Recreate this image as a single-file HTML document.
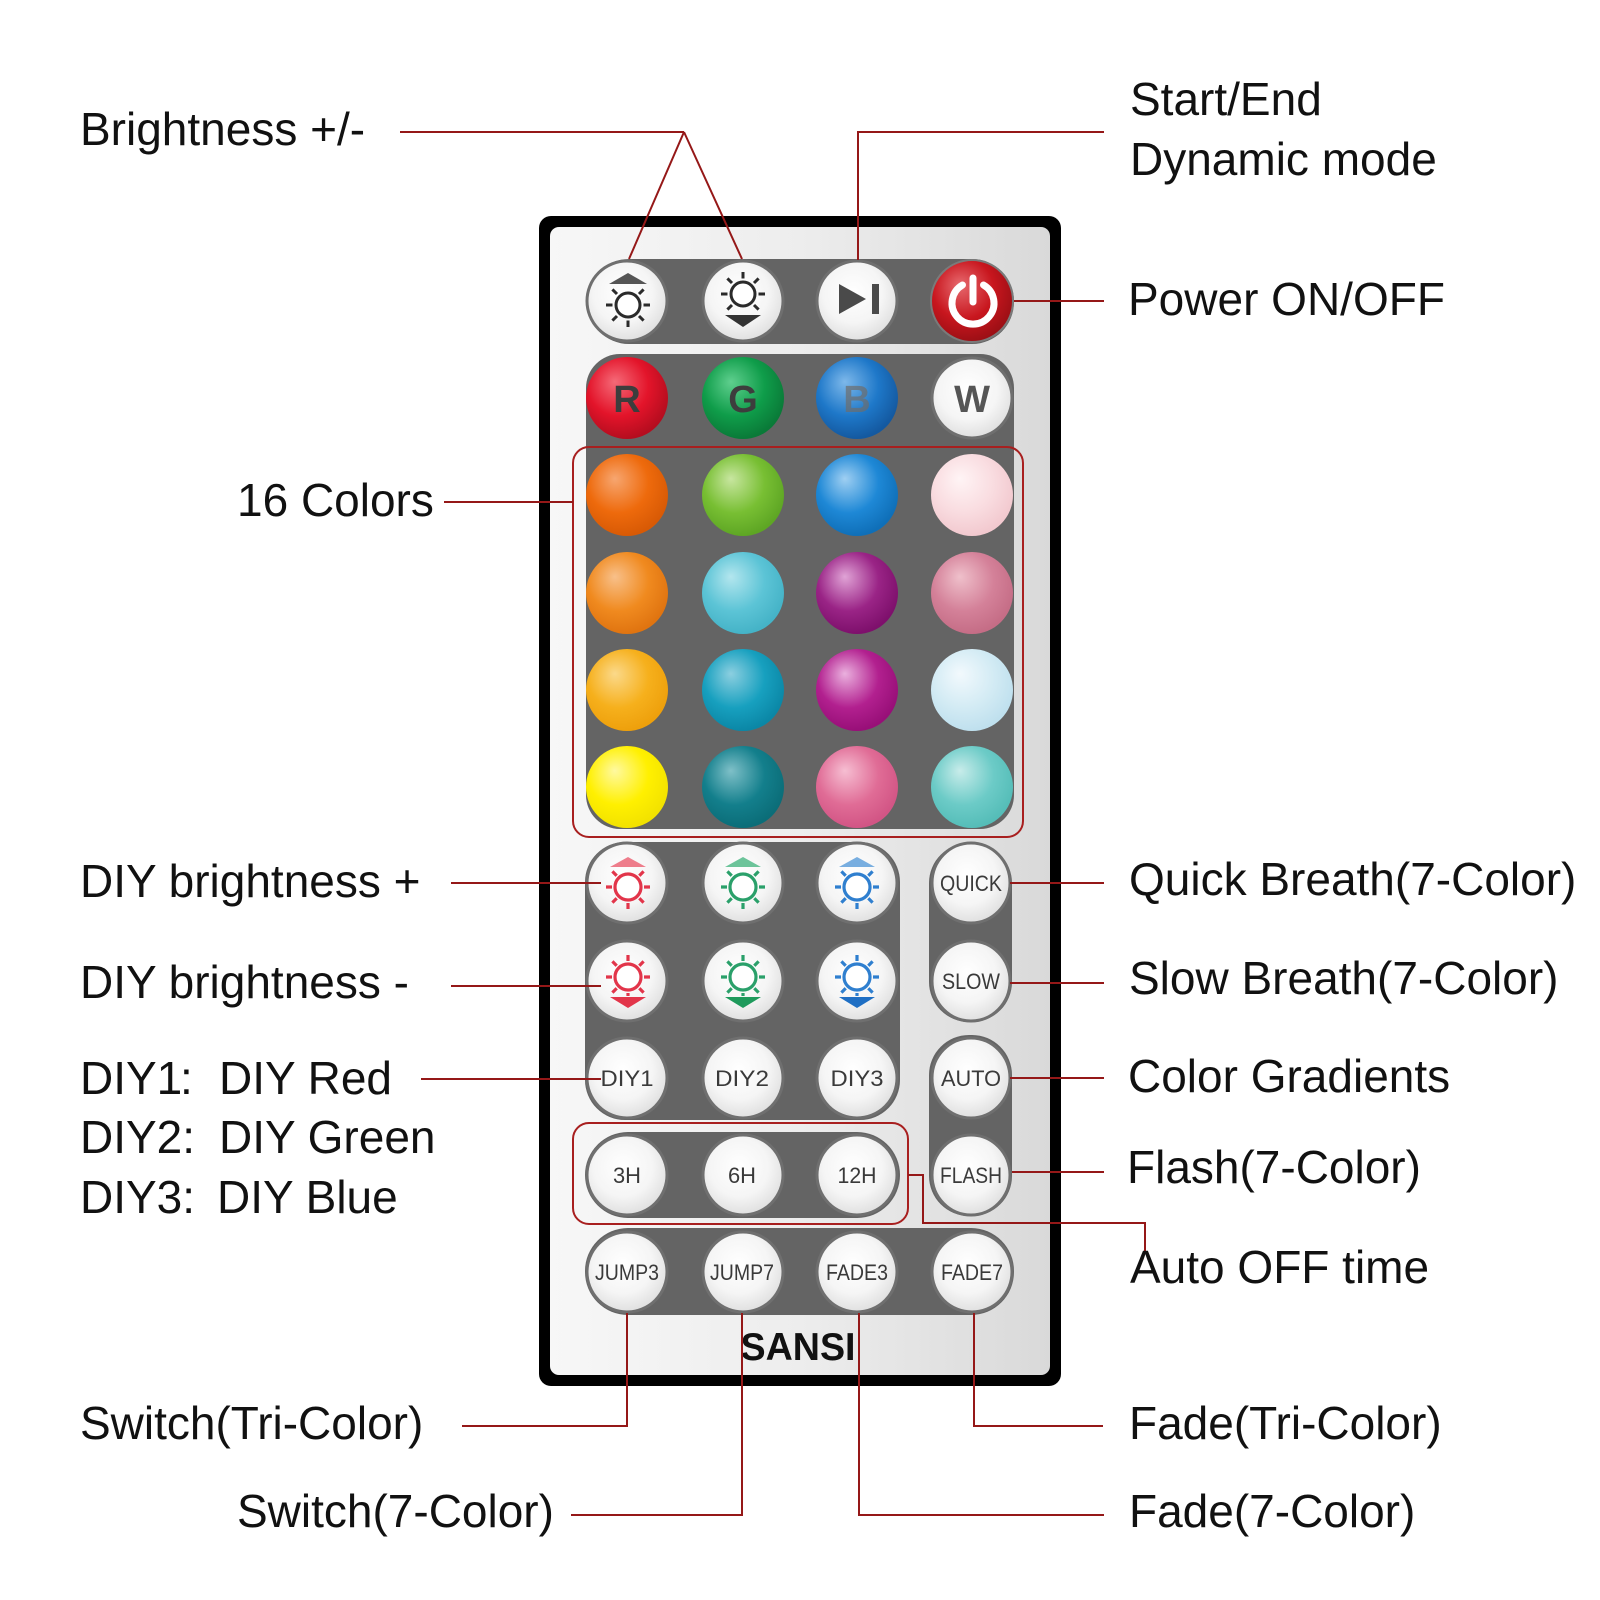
<!DOCTYPE html>
<html><head><meta charset="utf-8"><style>
html,body{margin:0;padding:0;background:#fff;}
svg{display:block;}
.lbl{font-family:"Liberation Sans",Arial,sans-serif;font-size:46px;fill:#111;}
.bt{font-family:"Liberation Sans",Arial,sans-serif;font-size:22px;fill:#3a3a3a;text-anchor:middle;}
.ln{fill:none;stroke:#951818;stroke-width:2;}
</style></head><body>
<svg width="1600" height="1600" viewBox="0 0 1600 1600" xmlns="http://www.w3.org/2000/svg">
<defs>
<linearGradient id="body" x1="0" y1="0" x2="1" y2="0"><stop offset="0" stop-color="#f7f7f7"/><stop offset=".5" stop-color="#ededed"/><stop offset="1" stop-color="#d9d9d9"/></linearGradient>
<radialGradient id="wh" cx=".45" cy=".4" r=".62"><stop offset="0" stop-color="#ffffff"/><stop offset=".6" stop-color="#f5f5f5"/><stop offset="1" stop-color="#dedede"/></radialGradient>
<radialGradient id="gR" cx=".42" cy=".38" r=".62" fx=".35" fy=".3"><stop offset="0" stop-color="#f56a78"/><stop offset=".6" stop-color="#e3142a"/><stop offset="1" stop-color="#b50d1f"/></radialGradient>
<radialGradient id="gG" cx=".42" cy=".38" r=".62" fx=".35" fy=".3"><stop offset="0" stop-color="#5fcf8e"/><stop offset=".6" stop-color="#0f9d4a"/><stop offset="1" stop-color="#0a7a38"/></radialGradient>
<radialGradient id="gB" cx=".42" cy=".38" r=".62" fx=".35" fy=".3"><stop offset="0" stop-color="#7db8ea"/><stop offset=".6" stop-color="#1e78c9"/><stop offset="1" stop-color="#1459a0"/></radialGradient>
<radialGradient id="gP" cx=".42" cy=".38" r=".62" fx=".35" fy=".3"><stop offset="0" stop-color="#e76a6f"/><stop offset=".6" stop-color="#c8161e"/><stop offset="1" stop-color="#9c0f15"/></radialGradient>
<radialGradient id="c11" cx=".42" cy=".38" r=".62" fx=".35" fy=".3"><stop offset="0" stop-color="#f7a670"/><stop offset=".6" stop-color="#ee6a0c"/><stop offset="1" stop-color="#d85a05"/></radialGradient>
<radialGradient id="c12" cx=".42" cy=".38" r=".62" fx=".35" fy=".3"><stop offset="0" stop-color="#c8e6a0"/><stop offset=".6" stop-color="#78bf33"/><stop offset="1" stop-color="#5ea624"/></radialGradient>
<radialGradient id="c13" cx=".42" cy=".38" r=".62" fx=".35" fy=".3"><stop offset="0" stop-color="#9fcff2"/><stop offset=".6" stop-color="#1e88d6"/><stop offset="1" stop-color="#0f6fb8"/></radialGradient>
<radialGradient id="c14" cx=".42" cy=".38" r=".62" fx=".35" fy=".3"><stop offset="0" stop-color="#fff4f5"/><stop offset=".6" stop-color="#f9dce0"/><stop offset="1" stop-color="#f2c9cf"/></radialGradient>
<radialGradient id="c21" cx=".42" cy=".38" r=".62" fx=".35" fy=".3"><stop offset="0" stop-color="#f8c08a"/><stop offset=".6" stop-color="#f08a1f"/><stop offset="1" stop-color="#e07410"/></radialGradient>
<radialGradient id="c22" cx=".42" cy=".38" r=".62" fx=".35" fy=".3"><stop offset="0" stop-color="#b3e6ee"/><stop offset=".6" stop-color="#5cc4d6"/><stop offset="1" stop-color="#45b3c7"/></radialGradient>
<radialGradient id="c23" cx=".42" cy=".38" r=".62" fx=".35" fy=".3"><stop offset="0" stop-color="#e0a3d6"/><stop offset=".6" stop-color="#9a2486"/><stop offset="1" stop-color="#7e106c"/></radialGradient>
<radialGradient id="c24" cx=".42" cy=".38" r=".62" fx=".35" fy=".3"><stop offset="0" stop-color="#efc0cb"/><stop offset=".6" stop-color="#d48199"/><stop offset="1" stop-color="#c56d86"/></radialGradient>
<radialGradient id="c31" cx=".42" cy=".38" r=".62" fx=".35" fy=".3"><stop offset="0" stop-color="#fbd98a"/><stop offset=".6" stop-color="#f6b01c"/><stop offset="1" stop-color="#eea00c"/></radialGradient>
<radialGradient id="c32" cx=".42" cy=".38" r=".62" fx=".35" fy=".3"><stop offset="0" stop-color="#8ccfe0"/><stop offset=".6" stop-color="#17a0bf"/><stop offset="1" stop-color="#0b87a6"/></radialGradient>
<radialGradient id="c33" cx=".42" cy=".38" r=".62" fx=".35" fy=".3"><stop offset="0" stop-color="#eab0de"/><stop offset=".6" stop-color="#b2208f"/><stop offset="1" stop-color="#980f78"/></radialGradient>
<radialGradient id="c34" cx=".42" cy=".38" r=".62" fx=".35" fy=".3"><stop offset="0" stop-color="#f2f9fd"/><stop offset=".6" stop-color="#d3ebf4"/><stop offset="1" stop-color="#bfe0ee"/></radialGradient>
<radialGradient id="c41" cx=".42" cy=".38" r=".62" fx=".35" fy=".3"><stop offset="0" stop-color="#fff9a0"/><stop offset=".6" stop-color="#fff000"/><stop offset="1" stop-color="#f2e200"/></radialGradient>
<radialGradient id="c42" cx=".42" cy=".38" r=".62" fx=".35" fy=".3"><stop offset="0" stop-color="#7fc0c8"/><stop offset=".6" stop-color="#137f8c"/><stop offset="1" stop-color="#0b6d78"/></radialGradient>
<radialGradient id="c43" cx=".42" cy=".38" r=".62" fx=".35" fy=".3"><stop offset="0" stop-color="#f6bed2"/><stop offset=".6" stop-color="#e06c96"/><stop offset="1" stop-color="#d25585"/></radialGradient>
<radialGradient id="c44" cx=".42" cy=".38" r=".62" fx=".35" fy=".3"><stop offset="0" stop-color="#c8ecea"/><stop offset=".6" stop-color="#6ccbc7"/><stop offset="1" stop-color="#55bdb8"/></radialGradient>
</defs>

<!-- Remote body -->
<rect x="539" y="216" width="522" height="1170" rx="12" fill="#000"/>
<rect x="550" y="227" width="500" height="1148" rx="9" fill="url(#body)"/>

<!-- Dark panels -->
<g fill="#646464">
<rect x="587" y="259" width="427" height="85" rx="42"/>
<rect x="586" y="354" width="428" height="475" rx="34"/>
<rect x="585" y="842" width="315" height="278" rx="40"/>
<rect x="929" y="843" width="83" height="179" rx="40"/>
<rect x="929" y="1035" width="83" height="181" rx="40"/>
<rect x="585" y="1132" width="315" height="86" rx="43"/>
<rect x="585" y="1228" width="429" height="87" rx="43"/>
</g>

<!-- Row 1 -->
<g stroke="#6f6f6f" stroke-width="3" fill="url(#wh)">
<circle cx="627" cy="301" r="40"/>
<circle cx="743" cy="301" r="40"/>
<circle cx="857" cy="301" r="40"/>
</g>
<circle cx="972" cy="301" r="41" fill="url(#gP)" stroke="#7a7a7a" stroke-width="2"/>
<!-- brightness + icon -->
<g transform="translate(628,305)" stroke="#2a2a2a" stroke-width="3" fill="none">
<circle r="12" fill="#fff"/>
<path d="M15.5 0H22M-15.5 0H-22M0 15.5V22M11 11L15.6 15.6M-11 11L-15.6 15.6M11 -11L15.6 -15.6M-11 -11L-15.6 -15.6"/>
<polygon points="-19,-21 0,-32 19,-21" fill="#555" stroke="none"/>
</g>
<!-- brightness - icon -->
<g transform="translate(743,294)" stroke="#2a2a2a" stroke-width="3" fill="none">
<circle r="12" fill="#fff"/>
<path d="M15.5 0H22M-15.5 0H-22M0 -15.5V-22M11 11L15.6 15.6M-11 11L-15.6 15.6M11 -11L15.6 -15.6M-11 -11L-15.6 -15.6"/>
<polygon points="-18,21 18,21 0,33" fill="#333" stroke="none"/>
</g>
<!-- play/pause -->
<polygon points="839,284 839,314 866,299" fill="#4a4a4a"/>
<rect x="872" y="284" width="7" height="30" fill="#4a4a4a"/>
<!-- power -->
<g stroke="#fff" stroke-width="7" fill="none" stroke-linecap="round">
<path d="M983.5 285 A21 21 0 1 1 962.5 285"/>
<line x1="973" y1="278" x2="973" y2="302"/>
</g>

<!-- Row 2 RGBW -->
<circle cx="627" cy="398" r="41" fill="url(#gR)"/>
<circle cx="743" cy="398" r="41" fill="url(#gG)"/>
<circle cx="857" cy="398" r="41" fill="url(#gB)"/>
<circle cx="972" cy="398" r="40" fill="url(#wh)" stroke="#6f6f6f" stroke-width="3"/>
<g font-family="Liberation Sans,Arial,sans-serif" font-weight="bold" font-size="38" text-anchor="middle">
<text x="627" y="412" fill="#3d3d3d">R</text>
<text x="743" y="412" fill="#3d3d3d">G</text>
<text x="857" y="412" fill="#6d6d6d" opacity=".7">B</text>
<text x="972" y="412" fill="#555">W</text>
</g>

<!-- 16 colors -->
<circle cx="627" cy="495" r="41" fill="url(#c11)"/>
<circle cx="743" cy="495" r="41" fill="url(#c12)"/>
<circle cx="857" cy="495" r="41" fill="url(#c13)"/>
<circle cx="972" cy="495" r="41" fill="url(#c14)"/>
<circle cx="627" cy="593" r="41" fill="url(#c21)"/>
<circle cx="743" cy="593" r="41" fill="url(#c22)"/>
<circle cx="857" cy="593" r="41" fill="url(#c23)"/>
<circle cx="972" cy="593" r="41" fill="url(#c24)"/>
<circle cx="627" cy="690" r="41" fill="url(#c31)"/>
<circle cx="743" cy="690" r="41" fill="url(#c32)"/>
<circle cx="857" cy="690" r="41" fill="url(#c33)"/>
<circle cx="972" cy="690" r="41" fill="url(#c34)"/>
<circle cx="627" cy="787" r="41" fill="url(#c41)"/>
<circle cx="743" cy="787" r="41" fill="url(#c42)"/>
<circle cx="857" cy="787" r="41" fill="url(#c43)"/>
<circle cx="972" cy="787" r="41" fill="url(#c44)"/>

<!-- white buttons rows 9-13 -->
<g stroke="#6f6f6f" stroke-width="3" fill="url(#wh)">
<circle cx="627" cy="883" r="40"/><circle cx="743" cy="883" r="40"/><circle cx="857" cy="883" r="40"/>
<circle cx="627" cy="981" r="40"/><circle cx="743" cy="981" r="40"/><circle cx="857" cy="981" r="40"/>
<circle cx="627" cy="1078" r="40"/><circle cx="743" cy="1078" r="40"/><circle cx="857" cy="1078" r="40"/>
<ellipse cx="971" cy="883" rx="39" ry="40"/>
<ellipse cx="971" cy="981" rx="39" ry="40"/>
<ellipse cx="971" cy="1078" rx="39" ry="40"/>
<ellipse cx="971" cy="1175" rx="39" ry="40"/>
<circle cx="627" cy="1175" r="40"/><circle cx="743" cy="1175" r="40"/><circle cx="857" cy="1175" r="40"/>
<circle cx="627" cy="1272" r="40"/><circle cx="743" cy="1272" r="40"/><circle cx="857" cy="1272" r="40"/><circle cx="972" cy="1272" r="40"/>
</g>

<!-- DIY brightness + icons -->
<g transform="translate(628,887)" stroke="#e2354a" stroke-width="3.2" fill="none">
<circle r="13" fill="#fff"/>
<path d="M16 0H22M-16 0H-22M0 16V22M11.3 11.3L15.6 15.6M-11.3 11.3L-15.6 15.6M11.3 -11.3L15.6 -15.6M-11.3 -11.3L-15.6 -15.6"/>
<polygon points="-18,-20 0,-30 18,-20" fill="#ee7d8b" stroke="none"/>
</g>
<g transform="translate(743,887)" stroke="#2aa06a" stroke-width="3.2" fill="none">
<circle r="13" fill="#fff"/>
<path d="M16 0H22M-16 0H-22M0 16V22M11.3 11.3L15.6 15.6M-11.3 11.3L-15.6 15.6M11.3 -11.3L15.6 -15.6M-11.3 -11.3L-15.6 -15.6"/>
<polygon points="-18,-20 0,-30 18,-20" fill="#6cc49a" stroke="none"/>
</g>
<g transform="translate(857,887)" stroke="#2f7fcf" stroke-width="3.2" fill="none">
<circle r="13" fill="#fff"/>
<path d="M16 0H22M-16 0H-22M0 16V22M11.3 11.3L15.6 15.6M-11.3 11.3L-15.6 15.6M11.3 -11.3L15.6 -15.6M-11.3 -11.3L-15.6 -15.6"/>
<polygon points="-18,-20 0,-30 18,-20" fill="#78aee0" stroke="none"/>
</g>
<!-- DIY brightness - icons -->
<g transform="translate(628,977)" stroke="#e2354a" stroke-width="3.2" fill="none">
<circle r="13" fill="#fff"/>
<path d="M16 0H22M-16 0H-22M0 -16V-22M11.3 11.3L15.6 15.6M-11.3 11.3L-15.6 15.6M11.3 -11.3L15.6 -15.6M-11.3 -11.3L-15.6 -15.6M0 16V19"/>
<polygon points="-18,20 18,20 0,31" fill="#e2354a" stroke="none"/>
</g>
<g transform="translate(743,977)" stroke="#2aa06a" stroke-width="3.2" fill="none">
<circle r="13" fill="#fff"/>
<path d="M16 0H22M-16 0H-22M0 -16V-22M11.3 11.3L15.6 15.6M-11.3 11.3L-15.6 15.6M11.3 -11.3L15.6 -15.6M-11.3 -11.3L-15.6 -15.6M0 16V19"/>
<polygon points="-18,20 18,20 0,31" fill="#1f9a5c" stroke="none"/>
</g>
<g transform="translate(857,977)" stroke="#2f7fcf" stroke-width="3.2" fill="none">
<circle r="13" fill="#fff"/>
<path d="M16 0H22M-16 0H-22M0 -16V-22M11.3 11.3L15.6 15.6M-11.3 11.3L-15.6 15.6M11.3 -11.3L15.6 -15.6M-11.3 -11.3L-15.6 -15.6M0 16V19"/>
<polygon points="-18,20 18,20 0,31" fill="#1f6fc4" stroke="none"/>
</g>

<!-- Button labels -->
<text class="bt" x="627" y="1086" textLength="53" lengthAdjust="spacingAndGlyphs">DIY1</text>
<text class="bt" x="742" y="1086" textLength="54" lengthAdjust="spacingAndGlyphs">DIY2</text>
<text class="bt" x="857" y="1086" textLength="53" lengthAdjust="spacingAndGlyphs">DIY3</text>
<text class="bt" x="971" y="891" textLength="62" lengthAdjust="spacingAndGlyphs">QUICK</text>
<text class="bt" x="971" y="989" textLength="58" lengthAdjust="spacingAndGlyphs">SLOW</text>
<text class="bt" x="971" y="1086" textLength="60" lengthAdjust="spacingAndGlyphs">AUTO</text>
<text class="bt" x="971" y="1183" textLength="62" lengthAdjust="spacingAndGlyphs">FLASH</text>
<text class="bt" x="627" y="1183" textLength="28" lengthAdjust="spacingAndGlyphs">3H</text>
<text class="bt" x="742" y="1183" textLength="28" lengthAdjust="spacingAndGlyphs">6H</text>
<text class="bt" x="857" y="1183" textLength="39" lengthAdjust="spacingAndGlyphs">12H</text>
<text class="bt" x="627" y="1280" textLength="64" lengthAdjust="spacingAndGlyphs">JUMP3</text>
<text class="bt" x="742" y="1280" textLength="64" lengthAdjust="spacingAndGlyphs">JUMP7</text>
<text class="bt" x="857" y="1280" textLength="62" lengthAdjust="spacingAndGlyphs">FADE3</text>
<text class="bt" x="972" y="1280" textLength="62" lengthAdjust="spacingAndGlyphs">FADE7</text>

<!-- Logo -->
<text x="798" y="1360" font-family="Liberation Sans,Arial,sans-serif" font-weight="bold" font-size="39" fill="#111" text-anchor="middle" textLength="115" lengthAdjust="spacingAndGlyphs">SANSI</text>

<!-- Red outline boxes -->
<rect x="573" y="447" width="450" height="390" rx="16" fill="none" stroke="#a81f1f" stroke-width="2"/>
<rect x="573" y="1123" width="335" height="101" rx="16" fill="none" stroke="#a81f1f" stroke-width="2"/>

<!-- Connectors -->
<path class="ln" d="M400 132H684M684 132L629 259M684 132L742 259"/>
<path class="ln" d="M858 260V132H1104"/>
<path class="ln" d="M1014 301H1104"/>
<path class="ln" d="M444 502H573"/>
<path class="ln" d="M451 883H601"/>
<path class="ln" d="M451 986H601"/>
<path class="ln" d="M421 1079H601"/>
<path class="ln" d="M1010 883H1104"/>
<path class="ln" d="M1010 983H1104"/>
<path class="ln" d="M1010 1078H1104"/>
<path class="ln" d="M1012 1172H1104"/>
<path class="ln" d="M908 1175H923V1223H1145V1253"/>
<path class="ln" d="M627 1313V1426H462"/>
<path class="ln" d="M742 1313V1515H571"/>
<path class="ln" d="M859 1313V1515H1104"/>
<path class="ln" d="M974 1313V1426H1103"/>

<!-- Left labels -->
<text class="lbl" x="80" y="145">Brightness +/-</text>
<text class="lbl" x="237" y="516">16 Colors</text>
<text class="lbl" x="80" y="897">DIY brightness +</text>
<text class="lbl" x="80" y="998">DIY brightness -</text>
<text class="lbl" x="80" y="1094">DIY1</text>
<text class="lbl" x="180" y="1094">:</text>
<text class="lbl" x="219" y="1094">DIY Red</text>
<text class="lbl" x="80" y="1153">DIY2:</text>
<text class="lbl" x="219" y="1153">DIY Green</text>
<text class="lbl" x="80" y="1213">DIY3:</text>
<text class="lbl" x="217" y="1213">DIY Blue</text>
<text class="lbl" x="80" y="1439">Switch(Tri-Color)</text>
<text class="lbl" x="237" y="1527">Switch(7-Color)</text>

<!-- Right labels -->
<text class="lbl" x="1130" y="115">Start/End</text>
<text class="lbl" x="1130" y="175">Dynamic mode</text>
<text class="lbl" x="1128" y="315">Power ON/OFF</text>
<text class="lbl" x="1129" y="895">Quick Breath(7-Color)</text>
<text class="lbl" x="1129" y="994">Slow Breath(7-Color)</text>
<text class="lbl" x="1128" y="1092">Color Gradients</text>
<text class="lbl" x="1127" y="1183">Flash(7-Color)</text>
<text class="lbl" x="1130" y="1283">Auto OFF time</text>
<text class="lbl" x="1129" y="1439">Fade(Tri-Color)</text>
<text class="lbl" x="1129" y="1527">Fade(7-Color)</text>
</svg>
</body></html>
